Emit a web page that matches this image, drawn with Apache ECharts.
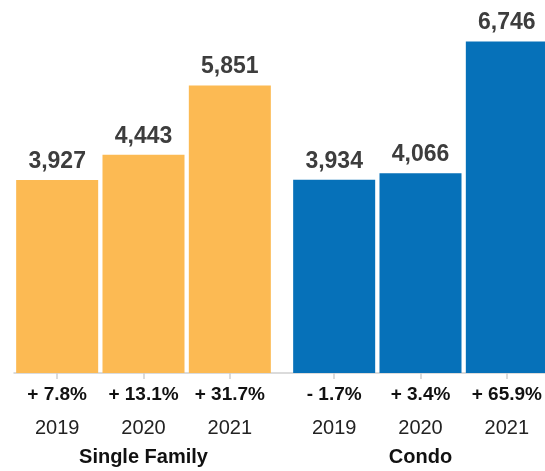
<!DOCTYPE html>
<html>
<head>
<meta charset="utf-8">
<script src="https://cdn.jsdelivr.net/npm/echarts@6/dist/echarts.min.js"></script>
<style>
html,body{margin:0;padding:0;background:#fff;}
#chart{width:545px;height:471px;}
</style>
</head>
<body>
<div id="chart"></div>
<script>
const years = ['2019', '2020', '2021'];
const groups = ['Single Family', 'Condo'];
const singleFamily = [3927, 4443, 5851];
const condo = [3934, 4066, 6746];
const singleFamilyChange = ['+ 7.8%', '+ 13.1%', '+ 31.7%'];
const condoChange = ['- 1.7%', '+ 3.4%', '+ 65.9%'];
const colors = ['#FCBA53', '#0671B9'];

const FONT = '"Liberation Sans", Arial, Helvetica, sans-serif';
const chart = echarts.init(document.getElementById('chart'), null, {renderer: 'canvas'});

const gridBottom = 98;
const grids = [
  {left: 14, width: 259, top: 29, bottom: gridBottom, outerBoundsMode: 'none', containLabel: false},
  {left: 291, width: 259, top: 29, bottom: gridBottom, outerBoundsMode: 'none', containLabel: false},
  {left: 14, right: 0, top: 29, bottom: gridBottom, outerBoundsMode: 'none', containLabel: false}
];

const seriesData = [singleFamily, condo];
const changes = [singleFamilyChange, condoChange];

const xAxes = [];
const yAxes = [];
const series = [];
for (let g = 0; g < 2; g++) {
  xAxes.push({
    type: 'category', gridIndex: g, data: years, position: 'bottom', offset: 32,
    axisLine: {show: false},
    axisTick: {show: true, alignWithLabel: true, length: 6, lineStyle: {color: '#cfcfcf', width: 1.5}},
    axisLabel: {interval: 0, margin: 13, fontSize: 20, color: '#222', fontFamily: FONT},
    name: groups[g], nameLocation: 'middle', nameGap: 42,
    nameTextStyle: {fontSize: 20, fontWeight: 'bold', color: '#111', fontFamily: FONT}
  });
  xAxes.push({
    type: 'category', gridIndex: g, data: changes[g], position: 'bottom', offset: 0,
    axisLine: {show: false}, axisTick: {show: false},
    axisLabel: {interval: 0, hideOverlap: false, margin: 12, fontSize: 19, fontWeight: 'bold', color: '#111', fontFamily: FONT}
  });
  yAxes.push({type: 'value', gridIndex: g, min: 0, max: 7000, show: false});
  series.push({
    type: 'bar', xAxisIndex: g * 2, yAxisIndex: g, data: seriesData[g],
    barCategoryGap: '5%',
    itemStyle: {color: colors[g]},
    label: {
      show: true, position: 'top', distance: 7,
      fontSize: 23, fontWeight: 'bold', color: '#3d3d3d', fontFamily: FONT,
      formatter: p => p.value.toLocaleString('en-US')
    },
    silent: true, animation: false
  });
}
// continuous baseline axis spanning both groups
xAxes.push({
  type: 'category', gridIndex: 2, data: [], position: 'bottom', offset: 32,
  axisLine: {show: true, lineStyle: {color: '#cfcfcf', width: 1.5}},
  axisTick: {show: false}, axisLabel: {show: false}
});
yAxes.push({type: 'value', gridIndex: 2, min: 0, max: 7000, show: false});

chart.setOption({
  animation: false,
  grid: grids,
  xAxis: xAxes,
  yAxis: yAxes,
  series: series
});
</script>
</body>
</html>
